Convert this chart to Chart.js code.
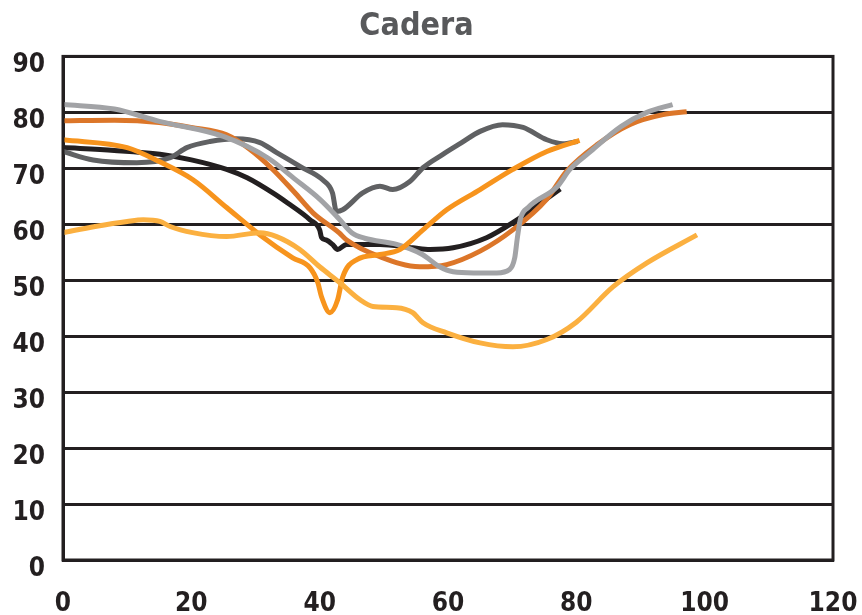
<!DOCTYPE html>
<html>
<head>
<meta charset="utf-8">
<script src="https://cdn.jsdelivr.net/npm/chart.js@4"></script>
<style>
html,body{margin:0;padding:0;background:#fff}
#wrap{width:862px;height:615px}
</style>
</head>
<body>
<div id="wrap"><canvas id="chart" width="862" height="615"></canvas></div>
<script>

// axis ticks
const xTicks=[0,20,40,60,80,100,120]
const yTicks=[0,10,20,30,40,50,60,70,80,90]

// series
const grayX=[0,8,15,25,32,36,40,43,45,47,52,56,58.7,60.8,64,67.6,69.6,70.4,70.8,71.3,72.5,77,79,82,87,91,95]
const grayY=[81.4,80.6,78.4,75.7,71.8,68.2,64.5,61,58.5,57.5,56.4,54.6,52.4,51.5,51.3,51.3,51.9,54,57.5,61,63,66.7,69.8,72.8,77.5,80,81.4]

const darkX=[0,4.7,11.5,16.7,19.3,22.9,27,30.7,33.3,37,40.5,42,42.6,43.6,46.7,49.4,51.4,54,56.1,59.2,62,65,68.5,71.7,75.4,77.9,80.2]
const darkY=[73,71.5,71,71.9,73.7,74.8,75.3,74.6,72.8,70.3,67.9,65.6,62.3,62.6,65.6,66.8,66.2,67.6,70.1,72.5,74.5,76.6,77.8,77.3,75.1,74.4,74.8]

const blackX=[0,8,15.1,20,25.5,28.7,32.7,35,38.5,40,40.3,41,42,42.8,44.2,49.4,54.5,57.2,60.8,66,70.1,77.5]
const blackY=[73.7,73.2,72.5,71.5,69.8,68.3,65.6,63.8,60.8,59,57.6,57.2,56.4,55.5,56.4,56.4,55.8,55.5,55.8,57.6,60.3,66.3]

const rustX=[0,8,15,20,25.5,29,32.7,36,39,43,44.2,49.4,55.6,59.8,65,70.1,75.4,78.5,83.2,88.3,93.5,97.2]
const rustY=[78.5,78.6,78.2,77.3,76,73.5,69.8,65.8,62,58.5,57.2,54.2,52.4,52.8,55.2,59,64.5,69.5,74.2,77.8,79.6,80.1]

const orangeX=[0,10,15,20.2,25.5,30.7,35.8,38.5,39.7,40.3,41.6,42.8,43.6,45.8,49.4,52.5,56.1,59.8,65,70.1,75.4,80.5]
const orangeY=[75.1,73.7,71.2,68,63,58.1,54,52.2,49.6,47,44.2,46.5,50.6,53.7,54.6,55.5,59,62.6,66.2,69.8,73,75]

const lightX=[0,5,10,12.5,15.1,16.7,20.2,25.5,30.7,33.3,36.9,40,43.1,46.3,48.3,52,54.5,56.1,59.8,65,70.1,75.4,80,85.7,91,98.8]
const lightY=[58.5,59.6,60.5,60.8,60.5,59.6,58.5,57.8,58.5,57.8,55.5,52.4,49.6,46.5,45.3,45.1,44.2,42.4,40.6,38.8,38.1,39.4,42.5,48.8,53.1,58.1]


function pts(xs,ys){
return xs.map((x,i)=>({x:x,y:ys[i]}))
}

function line(label,xs,ys,color){
return {
label:label,
data:pts(xs,ys),
borderColor:color,
backgroundColor:color,
borderWidth:5,
pointRadius:0,
showLine:true,
fill:false,
cubicInterpolationMode:"monotone"
}
}

const font="'DejaVu Sans Condensed','Liberation Sans Narrow',sans-serif"

new Chart(document.getElementById("chart"),{

type:"scatter",

data:{
datasets:[
line("s1",lightX,lightY,"#fbb040"),
line("s2",orangeX,orangeY,"#f7941d"),
line("s3",grayX,grayY,"#a2a3a6"),
line("s4",rustX,rustY,"#dc7629"),
line("s5",darkX,darkY,"#606163"),
line("s6",blackX,blackY,"#231f20")
]
},

options:{
responsive:false,
animation:false,
layout:{padding:{left:0,right:29,top:0,bottom:0}},
plugins:{
legend:{display:false},
tooltip:{enabled:false},
title:{
display:true,
text:"Cadera",
color:"#58595b",
font:{family:font,size:32,weight:"bold"},
padding:{top:7,bottom:11}
}
},
scales:{
x:{
type:"linear",
min:0,max:120,
afterBuildTicks:s=>{s.ticks=xTicks.map(v=>({value:v}))},
afterFit:s=>{s.height=55;s.paddingLeft=0;s.paddingRight=0},
grid:{display:false,drawTicks:false},
border:{display:true,color:"#231f20",width:3},
ticks:{color:"#231f20",padding:29,font:{family:font,size:26,weight:"bold"},maxRotation:0}
},
y:{
type:"linear",
min:0,max:90,
afterBuildTicks:s=>{s.ticks=yTicks.map(v=>({value:v}))},
afterFit:s=>{s.width=63},
grid:{color:"#231f20",lineWidth:3,drawTicks:false},
border:{display:true,color:"#231f20",width:3},
ticks:{color:"#231f20",padding:18,labelOffset:9,font:{family:font,size:26,weight:"bold"}}
}
}
},

plugins:[{
id:"frame",
afterDatasetsDraw(c){
let a=c.chartArea,ctx=c.ctx
ctx.save()
ctx.strokeStyle="#231f20"
ctx.lineWidth=3
ctx.strokeRect(a.left,a.top,a.right-a.left,a.bottom-a.top)
ctx.restore()
}
}]

})

</script>
</body>
</html>
